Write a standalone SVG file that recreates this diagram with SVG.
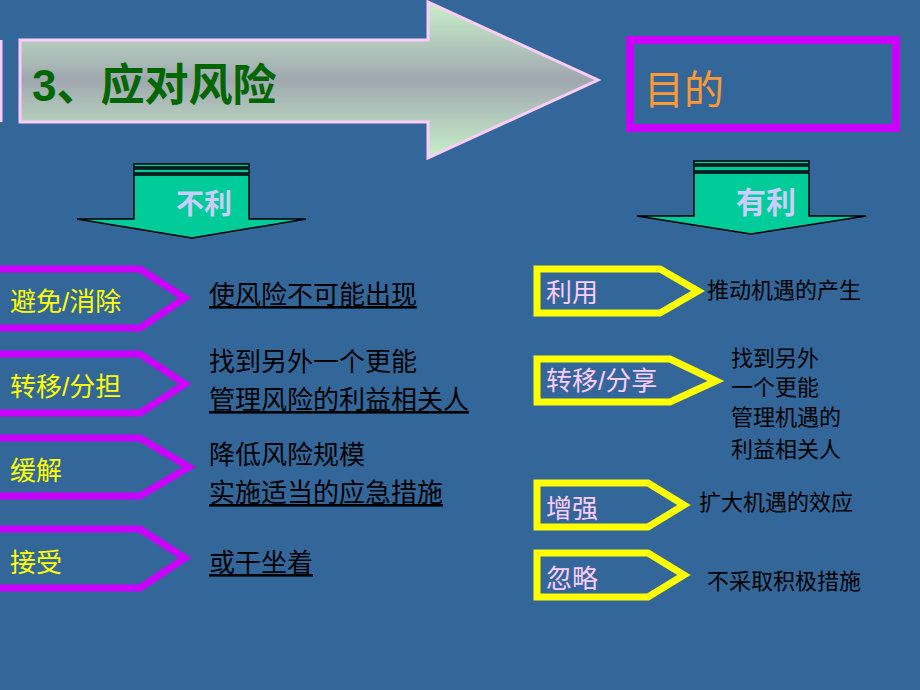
<svg xmlns="http://www.w3.org/2000/svg" width="920" height="690" viewBox="0 0 920 690">
<defs>
<linearGradient id="g" x1="0" y1="0" x2="0" y2="1">
<stop offset="0" stop-color="#c8f0c8"/><stop offset="0.5" stop-color="#a0a8b0"/><stop offset="1" stop-color="#c8f0c8"/>
</linearGradient>
<style>
.t{font-family:"Liberation Sans","Noto Sans CJK SC",sans-serif}
.p{fill:none;stroke:#cc00ff;stroke-width:7}
.y{fill:none;stroke:#ffff00;stroke-width:7}
.d{fill:#00cc99;stroke:#000;stroke-width:1.5}
.lk{font-size:26px;fill:#ffff00}
.rk{font-size:26px;fill:#ffccff}
.bl{font-size:26px;fill:#000;text-decoration:underline}
.br{font-size:22px;fill:#000}
</style>
</defs>
<rect width="920" height="690" fill="#336699"/>
<g id="title">
<line x1="1" y1="40" x2="1" y2="122" stroke="#ffccff" stroke-width="3"/>
<polygon points="20,40 428,40 428,2 598,80 428,158 428,122 20,122" fill="url(#g)" stroke="#ffccff" stroke-width="3"/>
<text class="t" x="32" y="101" font-size="44" font-weight="bold" fill="#006600">3、应对风险</text>
</g>
<g id="goal">
<rect x="630" y="40" width="266" height="88" fill="none" stroke="#cc00ff" stroke-width="8"/>
<text class="t" x="644" y="104" font-size="40" fill="#ff9933">目的</text>
</g>
<g id="bad">
<rect x="134" y="164" width="115" height="3" class="d"/><rect x="134" y="169" width="115" height="4" class="d"/>
<polygon class="d" points="134,175 249,175 249,219 306,219 192,238 77,219 134,219"/>
<text class="t" x="176" y="214" font-size="28" font-weight="bold" fill="#ccccff">不利</text>
</g>
<g id="good">
<rect x="694" y="161" width="115" height="3" class="d"/><rect x="694" y="166" width="115" height="5" class="d"/>
<polygon class="d" points="694,173 809,173 809,216 866,216 751,234 637,216 694,216"/>
<text class="t" x="736" y="213" font-size="30" font-weight="bold" fill="#ccccff">有利</text>
</g>
<g id="avoid"><polygon class="p" points="-5,269 140,269 185,298 140,328 -5,328"/><text class="t lk" x="10" y="311">避免/消除</text><text class="t bl" x="209" y="304">使风险不可能出现</text></g>
<g id="transfer"><polygon class="p" points="-5,354 140,354 185,384 140,413 -5,413"/><text class="t lk" x="10" y="396">转移/分担</text><text class="t bl" x="209" y="371" text-decoration="none" style="text-decoration:none">找到另外一个更能</text><text class="t bl" x="209" y="409">管理风险的利益相关人</text></g>
<g id="mitigate"><polygon class="p" points="-5,438 140,438 189,467 140,496 -5,496"/><text class="t lk" x="10" y="480">缓解</text><text class="t bl" x="209" y="464" style="text-decoration:none">降低风险规模</text><text class="t bl" x="209" y="502">实施适当的应急措施</text></g>
<g id="accept"><polygon class="p" points="-5,529 140,529 185,558 140,588 -5,588"/><text class="t lk" x="10" y="572">接受</text><text class="t bl" x="209" y="572">或干坐着</text></g>
<g id="use"><polygon class="y" points="537,269 660,269 698,291 660,313 537,313"/><text class="t rk" x="546" y="302">利用</text><text class="t br" x="707" y="298">推动机遇的产生</text></g>
<g id="share"><polygon class="y" points="537,359 670,359 716,381 670,402 537,402"/><text class="t rk" x="546" y="390">转移/分享</text><text class="t br" x="731" y="366">找到另外</text><text class="t br" x="731" y="395">一个更能</text><text class="t br" x="731" y="425">管理机遇的</text><text class="t br" x="731" y="457">利益相关人</text></g>
<g id="enhance"><polygon class="y" points="537,483 648,483 684,505 648,527 537,527"/><text class="t rk" x="546" y="518">增强</text><text class="t br" x="699" y="510">扩大机遇的效应</text></g>
<g id="ignore"><polygon class="y" points="537,553 648,553 684,575 648,597 537,597"/><text class="t rk" x="546" y="588">忽略</text><text class="t br" x="707" y="589">不采取积极措施</text></g>
</svg>
